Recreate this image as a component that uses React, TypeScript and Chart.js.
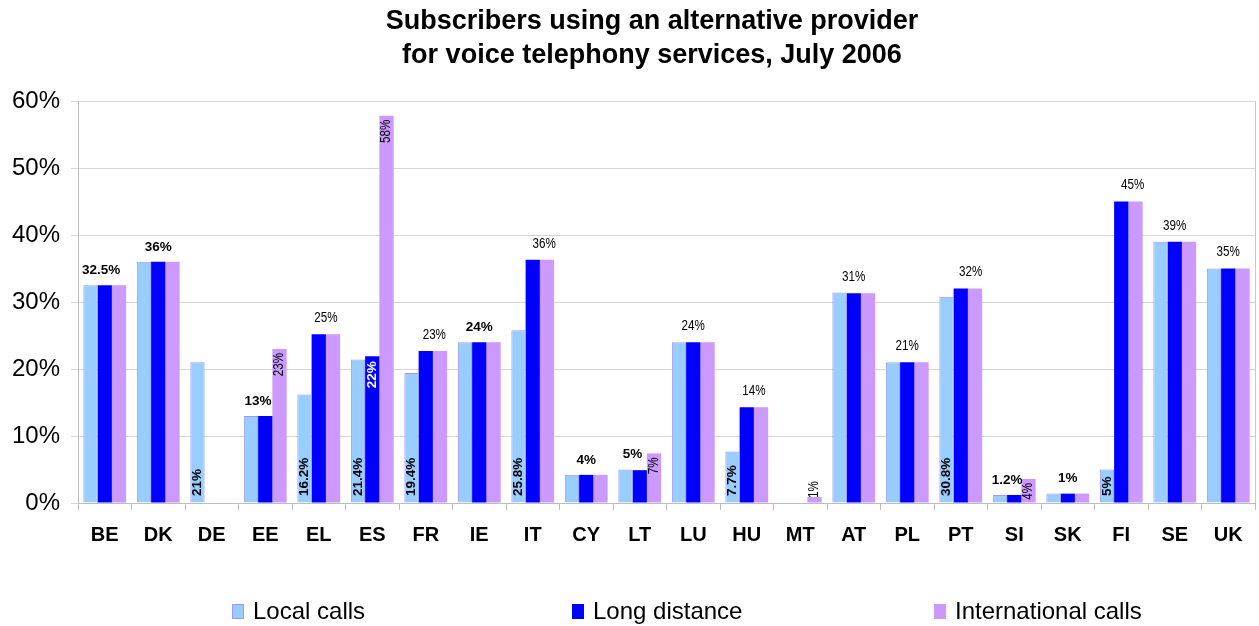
import React, { useEffect, useRef } from "react";
import { Chart, registerables } from "chart.js";

Chart.register(...registerables);

const TITLE_LINES = [
  "Subscribers using an alternative provider",
  "for voice telephony services, July 2006",
];
const COUNTRIES = ["BE", "DK", "DE", "EE", "EL", "ES", "FR", "IE", "IT", "CY", "LT", "LU", "HU", "MT", "AT", "PL", "PT", "SI", "SK", "FI", "SE", "UK"];
const LOCAL_CALLS = [32.5, 36, 21, 13, 16.2, 21.4, 19.4, 24, 25.8, 4.2, 5, 24, 7.7, null, 31.4, 21, 30.8, 1.2, 1.4, 5, 39, 35];
const LONG_DISTANCE = [32.5, 36, null, 13, 25.2, 21.9, 22.7, 24, 36.3, 4.2, 4.9, 24, 14.3, null, 31.3, 21, 32, 1.2, 1.4, 45, 39, 35];
const INTERNATIONAL = [32.5, 36, null, 23, 25.2, 57.8, 22.7, 24, 36.3, 4.2, 7.4, 24, 14.3, 0.9, 31.3, 21, 32, 3.6, 1.4, 45, 39, 35];
const SERIES_NAMES = ["Local calls", "Long distance", "International calls"];
const SERIES_COLORS = ["#99CCFF", "#0000FF", "#CC99FF"];
const Y_MAX = 60;
const Y_STEP = 10;

// Data labels: [country, series index, anchor (series slot), text, kind]
const DATA_LABELS: [string, number, number, string, string][] = [
  ["BE", 0, 0.75, "32.5%", "bold"],
  ["DK", 1, 1, "36%", "bold"],
  ["DE", 0, 0, "21%", "inBottom"],
  ["EE", 0, 0.5, "13%", "bold"],
  ["EE", 2, 2, "23%", "inTop"],
  ["EL", 0, 0, "16.2%", "inBottom"],
  ["EL", 1, 1.5, "25%", "narrow"],
  ["ES", 0, 0, "21.4%", "inBottom"],
  ["ES", 1, 1, "22%", "inTopWhite"],
  ["ES", 2, 2, "58%", "inTop"],
  ["FR", 0, 0, "19.4%", "inBottom"],
  ["FR", 1, 1.6, "23%", "narrow"],
  ["IE", 1, 1, "24%", "bold"],
  ["IT", 0, 0, "25.8%", "inBottom"],
  ["IT", 1, 1.8, "36%", "narrow"],
  ["CY", 1, 1, "4%", "bold"],
  ["LT", 0, 0.5, "5%", "bold"],
  ["LT", 2, 2, "7%", "inTop"],
  ["LU", 1, 1, "24%", "narrow"],
  ["HU", 0, 0, "7.7%", "inBottom"],
  ["HU", 1, 1.5, "14%", "narrow"],
  ["MT", 2, 2, "1%", "rotAbove"],
  ["AT", 1, 1, "31%", "narrow"],
  ["PL", 1, 1, "21%", "narrow"],
  ["PT", 0, 0, "30.8%", "inBottom"],
  ["PT", 1, 1.7, "32%", "narrow"],
  ["SI", 0, 0.5, "1.2%", "bold"],
  ["SI", 2, 2, "4%", "inTop"],
  ["SK", 1, 1, "1%", "bold"],
  ["FI", 0, 0, "5%", "inBottom"],
  ["FI", 1, 1.8, "45%", "narrow"],
  ["SE", 1, 1, "39%", "narrow"],
  ["UK", 1, 1, "35%", "narrow"],
];

const FONT = "'Liberation Sans', Arial, Helvetica, sans-serif";

const titlePlugin = {
  id: "customTitle",
  afterDraw(chart: any) {
    const ctx = chart.ctx;
    ctx.save();
    ctx.fillStyle = "#000";
    ctx.font = `bold 27px ${FONT}`;
    ctx.textAlign = "center";
    ctx.textBaseline = "middle";
    const cx = 652;
    ctx.fillText(TITLE_LINES[0], cx, 22);
    ctx.fillText(TITLE_LINES[1], cx, 56);
    ctx.restore();
  },
};

const legendPlugin = {
  id: "customLegend",
  afterDraw(chart: any) {
    const ctx = chart.ctx;
    const xs = [232, 572, 934];
    const y = 611;
    ctx.save();
    ctx.font = `24px ${FONT}`;
    ctx.textBaseline = "middle";
    ctx.textAlign = "left";
    SERIES_NAMES.forEach((name, i) => {
      ctx.fillStyle = SERIES_COLORS[i];
      ctx.fillRect(xs[i], y - 7, 12, 15);
      if (i === 0) {
        ctx.strokeStyle = "#9999FF";
        ctx.lineWidth = 1;
        ctx.strokeRect(xs[i] + 0.5, y - 6.5, 11, 14);
      }
      ctx.fillStyle = "#000";
      ctx.fillText(name, xs[i] + 21, y + 1);
    });
    ctx.restore();
  },
};

const borderPlugin = {
  id: "rightBorder",
  beforeDatasetsDraw(chart: any) {
    const { ctx, chartArea } = chart;
    ctx.save();
    ctx.strokeStyle = "#C8C8C8";
    ctx.lineWidth = 1;
    ctx.beginPath();
    ctx.moveTo(Math.round(chartArea.right) + 0.5, chartArea.top);
    ctx.lineTo(Math.round(chartArea.right) + 0.5, chartArea.bottom);
    ctx.stroke();
    ctx.restore();
  },
};

const labelPlugin = {
  id: "valueLabels",
  afterDatasetsDraw(chart: any) {
    const ctx = chart.ctx;
    const xScale = chart.scales.x;
    const yScale = chart.scales.y;
    const m0 = chart.getDatasetMeta(0).data[0];
    const m1 = chart.getDatasetMeta(1).data[0];
    const slot = m1.x - m0.x;
    const series = [LOCAL_CALLS, LONG_DISTANCE, INTERNATIONAL];
    const zeroY = yScale.getPixelForValue(0);
    DATA_LABELS.forEach(([cat, ser, pos, text, kind]) => {
      const i = COUNTRIES.indexOf(cat);
      const center = xScale.getPixelForValue(i);
      const x = center + (pos - 1) * slot;
      const v = series[ser][i] as number;
      const top = yScale.getPixelForValue(v);
      ctx.save();
      ctx.fillStyle = "#000";
      if (kind === "bold") {
        ctx.font = `bold 13.5px ${FONT}`;
        ctx.textAlign = "center";
        ctx.textBaseline = "middle";
        ctx.fillText(text, x, top - 15);
      } else if (kind === "narrow") {
        ctx.font = `14px ${FONT}`;
        ctx.textAlign = "center";
        ctx.textBaseline = "middle";
        ctx.translate(x, top - 16);
        ctx.scale(0.83, 1);
        ctx.fillText(text, 0, 0);
      } else if (kind === "inBottom") {
        ctx.font = `bold 13.5px ${FONT}`;
        ctx.textAlign = "left";
        ctx.textBaseline = "middle";
        ctx.translate(x, zeroY - 7);
        ctx.rotate(-Math.PI / 2);
        ctx.fillText(text, 0, 0);
      } else if (kind === "inTop") {
        ctx.font = `14px ${FONT}`;
        ctx.textAlign = "right";
        ctx.textBaseline = "middle";
        ctx.translate(x, top + 4);
        ctx.rotate(-Math.PI / 2);
        ctx.scale(0.83, 1);
        ctx.fillText(text, 0, 0);
      } else if (kind === "inTopWhite") {
        ctx.fillStyle = "#FFF";
        ctx.font = `bold 13.5px ${FONT}`;
        ctx.textAlign = "right";
        ctx.textBaseline = "middle";
        ctx.translate(x, top + 5);
        ctx.rotate(-Math.PI / 2);
        ctx.fillText(text, 0, 0);
      } else if (kind === "rotAbove") {
        ctx.font = `14px ${FONT}`;
        ctx.textAlign = "left";
        ctx.textBaseline = "middle";
        ctx.translate(x, top + 1);
        ctx.rotate(-Math.PI / 2);
        ctx.scale(0.83, 1);
        ctx.fillText(text, 0, 0);
      }
      ctx.restore();
    });
  },
};

export default function App() {
  const canvasRef = useRef<HTMLCanvasElement | null>(null);

  useEffect(() => {
    if (!canvasRef.current) return;
    const chart = new Chart(canvasRef.current, {
      type: "bar",
      data: {
        labels: COUNTRIES,
        datasets: [
          {
            label: SERIES_NAMES[0],
            data: LOCAL_CALLS,
            backgroundColor: SERIES_COLORS[0],
            borderColor: "#9999FF",
            borderWidth: 1,
          },
          {
            label: SERIES_NAMES[1],
            data: LONG_DISTANCE,
            backgroundColor: SERIES_COLORS[1],
            borderWidth: 0,
          },
          {
            label: SERIES_NAMES[2],
            data: INTERNATIONAL,
            backgroundColor: SERIES_COLORS[2],
            borderWidth: 0,
          },
        ],
      },
      options: {
        animation: false,
        responsive: true,
        maintainAspectRatio: false,
        categoryPercentage: 0.8,
        barPercentage: 1.0,
        layout: { padding: { top: 101, right: 4, left: 0, bottom: 0 } },
        plugins: {
          legend: { display: false },
          title: { display: false },
          tooltip: { enabled: false },
        },
        scales: {
          x: {
            offset: true,
            grid: {
              offset: true,
              drawOnChartArea: false,
              drawTicks: true,
              tickLength: 7,
              color: "#BDBDBD",
            },
            border: { display: true, color: "#BDBDBD" },
            ticks: {
              color: "#000",
              font: { family: FONT, size: 20, weight: "bold" },
              padding: 13,
              maxRotation: 0,
              autoSkip: false,
            },
            afterFit(scale: any) {
              scale.height = 123;
            },
          },
          y: {
            min: 0,
            max: Y_MAX,
            grid: { color: "#D6D6D6", tickLength: 7, drawTicks: true },
            border: { display: true, color: "#BDBDBD" },
            ticks: {
              stepSize: Y_STEP,
              color: "#000",
              font: { family: FONT, size: 24 },
              padding: 11,
              callback: (v: any) => `${v}%`,
            },
            afterFit(scale: any) {
              scale.width = 78;
            },
          },
        },
      },
      plugins: [borderPlugin, labelPlugin, titlePlugin, legendPlugin],
    } as any);
    return () => chart.destroy();
  }, []);

  return (
    <div style={{ position: "absolute", left: 0, top: 0, width: 1259, height: 626, background: "#fff" }}>
      <canvas ref={canvasRef} />
    </div>
  );
}
